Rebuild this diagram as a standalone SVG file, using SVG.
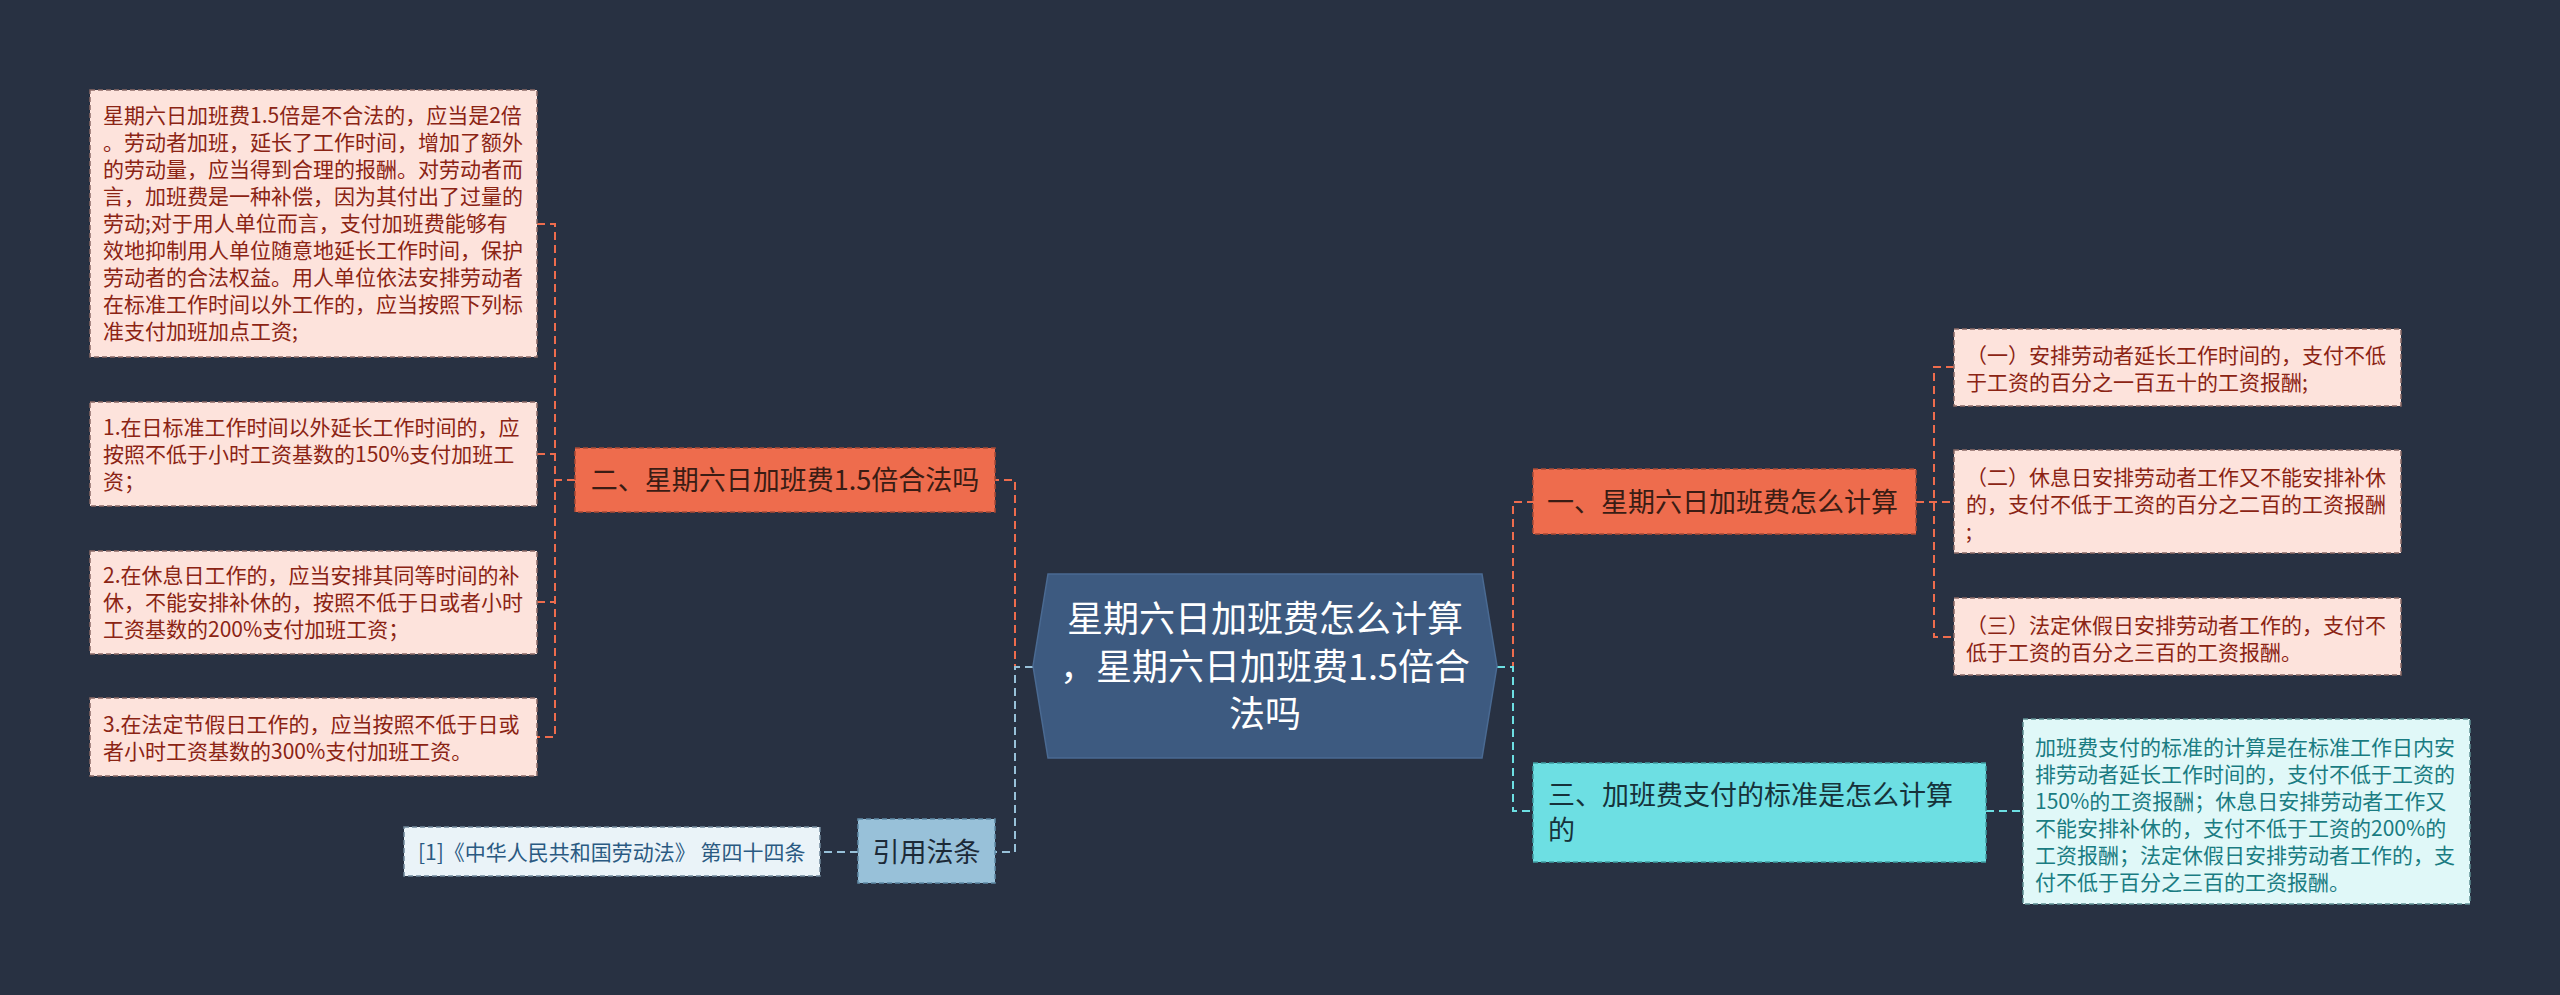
<svg xmlns="http://www.w3.org/2000/svg" width="2560" height="995" viewBox="0 0 2560 995">
<style>
text{font-family:"Noto Sans CJK SC","Microsoft YaHei",sans-serif;}
.c{fill:none;stroke-width:2;stroke-dasharray:8 5;}
.co{stroke:#ee6c4d;}
.cb{stroke:#98c1d9;}
.cc{stroke:#6ddfe3;}
.pink{fill:#fde3dc;stroke:#8a6a66;stroke-width:1.5;stroke-dasharray:5 3;}
.pt{font-size:21px;fill:#8b2414;}
.orange{fill:#ee6c4d;stroke:#a84a36;stroke-width:1.5;stroke-dasharray:5 3;}
.ot{font-size:27px;fill:#3a1c14;}
.cyan{fill:#6ddfe3;stroke:#3f9da2;stroke-width:1.5;stroke-dasharray:5 3;}
.ct{font-size:27px;fill:#16323a;}
.lcyan{fill:#e0f8f8;stroke:#5d8f93;stroke-width:1.5;stroke-dasharray:5 3;}
.lct{font-size:21px;fill:#1a7c82;}
.blue{fill:#98c1d9;stroke:#5f8aa6;stroke-width:1.5;stroke-dasharray:5 3;}
.bt{font-size:27px;fill:#1c2a38;}
.lblue{fill:#eaf3f8;stroke:#70889a;stroke-width:1.5;stroke-dasharray:5 3;}
.lbt{font-size:21px;fill:#2a5a82;}
</style>
<rect x="0" y="0" width="2560" height="995" fill="#283142"/>
<g id="connectors">
<path class="c co" d="M1033 667 H1015 V480 H995"/>
<path class="c cb" d="M1033 667 H1015 V852 H995"/>
<path class="c co" d="M1497 667 H1513 V502 H1533"/>
<path class="c cc" d="M1497 667 H1513 V811 H1533"/>
<path class="c co" d="M575 480 H555 M537 224 H555 V737 H537 M537 454 H555 M537 602 H555"/>
<path class="c co" d="M1916 502 H1954 M1954 367 H1934 V637 H1954"/>
<path class="c cc" d="M1986 811 H2023"/>
<path class="c cb" d="M858 852 H820"/>
</g>
<g id="center">
<polygon points="1048,574 1482,574 1497,666 1482,758 1048,758 1033,666" fill="#3d5a80" stroke="#4a6a92" stroke-width="1.5"/>
<text x="1265" y="632" font-size="36" fill="#ffffff" text-anchor="middle">星期六日加班费怎么计算</text>
<text x="1265" y="680" font-size="36" fill="#ffffff" text-anchor="middle">，星期六日加班费1.5倍合</text>
<text x="1265" y="727" font-size="36" fill="#ffffff" text-anchor="middle">法吗</text>
</g>
<g id="node-er">
<rect class="orange" x="575" y="448" width="420" height="64"/>
<text class="ot" x="785" y="490" text-anchor="middle">二、星期六日加班费1.5倍合法吗</text>
</g>
<g id="node-er-1">
<rect class="pink" x="90" y="90" width="447" height="267"/>
<text class="pt" x="103" y="123">星期六日加班费1.5倍是不合法的，应当是2倍</text>
<text class="pt" x="103" y="150">。劳动者加班，延长了工作时间，增加了额外</text>
<text class="pt" x="103" y="177">的劳动量，应当得到合理的报酬。对劳动者而</text>
<text class="pt" x="103" y="204">言，加班费是一种补偿，因为其付出了过量的</text>
<text class="pt" x="103" y="231">劳动;对于用人单位而言，支付加班费能够有</text>
<text class="pt" x="103" y="258">效地抑制用人单位随意地延长工作时间，保护</text>
<text class="pt" x="103" y="285">劳动者的合法权益。用人单位依法安排劳动者</text>
<text class="pt" x="103" y="312">在标准工作时间以外工作的，应当按照下列标</text>
<text class="pt" x="103" y="339">准支付加班加点工资;</text>
</g>
<g id="node-er-2">
<rect class="pink" x="90" y="402" width="447" height="104"/>
<text class="pt" x="103" y="435">1.在日标准工作时间以外延长工作时间的，应</text>
<text class="pt" x="103" y="462">按照不低于小时工资基数的150%支付加班工</text>
<text class="pt" x="103" y="489">资；</text>
</g>
<g id="node-er-3">
<rect class="pink" x="90" y="551" width="447" height="103"/>
<text class="pt" x="103" y="583">2.在休息日工作的，应当安排其同等时间的补</text>
<text class="pt" x="103" y="610">休，不能安排补休的，按照不低于日或者小时</text>
<text class="pt" x="103" y="637">工资基数的200%支付加班工资；</text>
</g>
<g id="node-er-4">
<rect class="pink" x="90" y="698" width="447" height="78"/>
<text class="pt" x="103" y="732">3.在法定节假日工作的，应当按照不低于日或</text>
<text class="pt" x="103" y="759">者小时工资基数的300%支付加班工资。</text>
</g>
<g id="node-yinyong">
<rect class="blue" x="858" y="819" width="137" height="64"/>
<text class="bt" x="926.5" y="862" text-anchor="middle">引用法条</text>
</g>
<g id="node-cite">
<rect class="lblue" x="404" y="827" width="416" height="49"/>
<text class="lbt" x="418" y="860">[1]《中华人民共和国劳动法》 第四十四条</text>
</g>
<g id="node-yi">
<rect class="orange" x="1533" y="469" width="383" height="65"/>
<text class="ot" x="1547" y="512">一、星期六日加班费怎么计算</text>
</g>
<g id="node-yi-1">
<rect class="pink" x="1954" y="329" width="447" height="77"/>
<text class="pt" x="1966" y="363">（一）安排劳动者延长工作时间的，支付不低</text>
<text class="pt" x="1966" y="390">于工资的百分之一百五十的工资报酬;</text>
</g>
<g id="node-yi-2">
<rect class="pink" x="1954" y="450" width="447" height="103"/>
<text class="pt" x="1966" y="485">（二）休息日安排劳动者工作又不能安排补休</text>
<text class="pt" x="1966" y="512">的，支付不低于工资的百分之二百的工资报酬</text>
<text class="pt" x="1966" y="539">;</text>
</g>
<g id="node-yi-3">
<rect class="pink" x="1954" y="598" width="447" height="77"/>
<text class="pt" x="1966" y="633">（三）法定休假日安排劳动者工作的，支付不</text>
<text class="pt" x="1966" y="660">低于工资的百分之三百的工资报酬。</text>
</g>
<g id="node-san">
<rect class="cyan" x="1533" y="763" width="453" height="99"/>
<text class="ct" x="1548" y="805">三、加班费支付的标准是怎么计算</text>
<text class="ct" x="1548" y="840">的</text>
</g>
<g id="node-san-1">
<rect class="lcyan" x="2023" y="719" width="447" height="185"/>
<text class="lct" x="2035" y="755">加班费支付的标准的计算是在标准工作日内安</text>
<text class="lct" x="2035" y="782">排劳动者延长工作时间的，支付不低于工资的</text>
<text class="lct" x="2035" y="809">150%的工资报酬；休息日安排劳动者工作又</text>
<text class="lct" x="2035" y="836">不能安排补休的，支付不低于工资的200%的</text>
<text class="lct" x="2035" y="863">工资报酬；法定休假日安排劳动者工作的，支</text>
<text class="lct" x="2035" y="890">付不低于百分之三百的工资报酬。</text>
</g>
</svg>
